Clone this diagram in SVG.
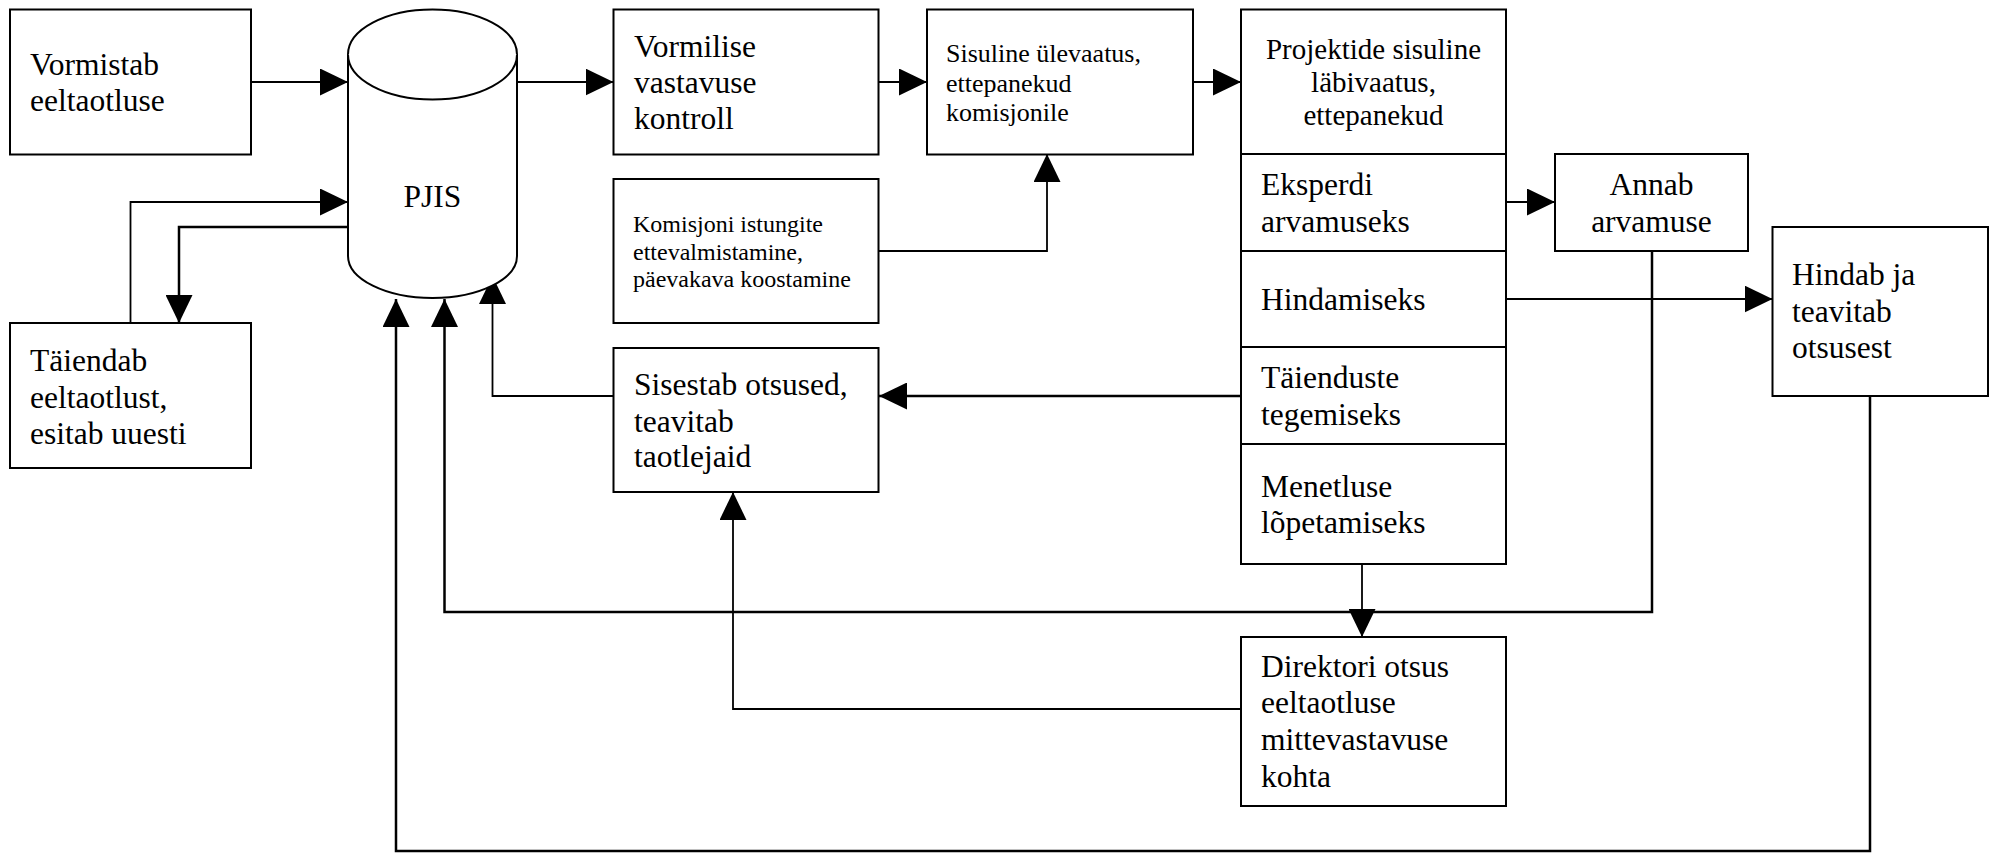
<svg xmlns="http://www.w3.org/2000/svg" width="1990" height="854" viewBox="0 0 1990 854">
  <style>
    .box { fill: #fff; stroke: #000; stroke-width: 2; }
    .t { font-family: "Liberation Serif", "Times New Roman", serif; font-size: 31.5px; fill: #000; }
    .s26 { font-size: 26px; }
    .s24 { font-size: 24px; }
    .s29 { font-size: 29px; }
    .mid { text-anchor: middle; }
    .c { fill: none; stroke: #000; stroke-width: 1.8; }
    .thick { stroke-width: 2.5; }
  </style>
  <defs>
    <marker id="arr" markerUnits="userSpaceOnUse" markerWidth="28" markerHeight="27" refX="28" refY="13.5" orient="auto">
      <path d="M0,0 L28,13.5 L0,27 Z" fill="#000"/>
    </marker>
  </defs>
  <rect width="1990" height="854" fill="#fff"/>

  <g id="connectors">
    <path class="c" d="M251,82 H348" marker-end="url(#arr)"/>
    <path class="c" d="M517,82 H613.5" marker-end="url(#arr)"/>
    <path class="c" d="M879,82 H927" marker-end="url(#arr)"/>
    <path class="c" d="M1193,82 H1241" marker-end="url(#arr)"/>
    <path class="c" d="M130.5,323 V202 H348" marker-end="url(#arr)"/>
    <path class="c thick" d="M348,227 H179 V323" marker-end="url(#arr)"/>
    <path class="c" d="M879,251 H1047 V154" marker-end="url(#arr)"/>
    <path class="c thick" d="M1241,396 H879" marker-end="url(#arr)"/>
    <path class="c" d="M613.5,396 H492.5 V276" marker-end="url(#arr)"/>
    <path class="c thick" d="M1652,251 V612 H444.5 V299" marker-end="url(#arr)"/>
    <path class="c thick" d="M1870,396 V851 H396 V299" marker-end="url(#arr)"/>
    <path class="c" d="M1506,202 H1555" marker-end="url(#arr)"/>
    <path class="c" d="M1506,299 H1772.5" marker-end="url(#arr)"/>
    <path class="c" d="M1362,564 V637" marker-end="url(#arr)"/>
    <path class="c" d="M1241,709 H733 V492" marker-end="url(#arr)"/>
  </g>

  <g id="vormistab">
    <rect class="box" x="10" y="9.5" width="241" height="145"/>
    <text class="t" x="30" y="75">Vormistab</text>
    <text class="t" x="30" y="111">eeltaotluse</text>
  </g>

  <g id="pjis">
    <path class="box" d="M348,54.5 V256 A84.5,42 0 0 0 517,256 V54.5 A84.5,45 0 0 0 348,54.5 Z"/>
    <path class="box" fill="none" d="M348,54.5 A84.5,45 0 0 0 517,54.5"/>
    <text class="t mid" x="432.5" y="207">PJIS</text>
  </g>

  <g id="taiendab">
    <rect class="box" x="10" y="323" width="241" height="145"/>
    <text class="t" x="30" y="371">Täiendab</text>
    <text class="t" x="30" y="408">eeltaotlust,</text>
    <text class="t" x="30" y="444">esitab uuesti</text>
  </g>

  <g id="vormilise">
    <rect class="box" x="613.5" y="9.5" width="265" height="145"/>
    <text class="t" x="634" y="57">Vormilise</text>
    <text class="t" x="634" y="93">vastavuse</text>
    <text class="t" x="634" y="129">kontroll</text>
  </g>

  <g id="sisuline">
    <rect class="box" x="927" y="9.5" width="266" height="145"/>
    <text class="t s26" x="946" y="62">Sisuline ülevaatus,</text>
    <text class="t s26" x="946" y="92">ettepanekud</text>
    <text class="t s26" x="946" y="121">komisjonile</text>
  </g>

  <g id="komisjoni">
    <rect class="box" x="613.5" y="179" width="265" height="144"/>
    <text class="t s24" x="633" y="232">Komisjoni istungite</text>
    <text class="t s24" x="633" y="260">ettevalmistamine,</text>
    <text class="t s24" x="633" y="287">päevakava koostamine</text>
  </g>

  <g id="sisestab">
    <rect class="box" x="613.5" y="348" width="265" height="144"/>
    <text class="t" x="634" y="395">Sisestab otsused,</text>
    <text class="t" x="634" y="432">teavitab</text>
    <text class="t" x="634" y="467">taotlejaid</text>
  </g>

  <g id="projektide">
    <rect class="box" x="1241" y="9.5" width="265" height="144.5"/>
    <text class="t s29 mid" x="1373.5" y="59">Projektide sisuline</text>
    <text class="t s29 mid" x="1373.5" y="92">läbivaatus,</text>
    <text class="t s29 mid" x="1373.5" y="125">ettepanekud</text>
  </g>

  <g id="eksperdi">
    <rect class="box" x="1241" y="154" width="265" height="97"/>
    <text class="t" x="1261" y="195">Eksperdi</text>
    <text class="t" x="1261" y="232">arvamuseks</text>
  </g>

  <g id="hindamiseks">
    <rect class="box" x="1241" y="251" width="265" height="96"/>
    <text class="t" x="1261" y="310">Hindamiseks</text>
  </g>

  <g id="taienduste">
    <rect class="box" x="1241" y="347" width="265" height="97"/>
    <text class="t" x="1261" y="388">Täienduste</text>
    <text class="t" x="1261" y="425">tegemiseks</text>
  </g>

  <g id="menetluse">
    <rect class="box" x="1241" y="444" width="265" height="120"/>
    <text class="t" x="1261" y="497">Menetluse</text>
    <text class="t" x="1261" y="533">lõpetamiseks</text>
  </g>

  <g id="annab">
    <rect class="box" x="1555" y="154" width="193" height="97"/>
    <text class="t mid" x="1651.5" y="195">Annab</text>
    <text class="t mid" x="1651.5" y="232">arvamuse</text>
  </g>

  <g id="hindab">
    <rect class="box" x="1772.5" y="227" width="215.5" height="169"/>
    <text class="t" x="1792" y="285">Hindab ja</text>
    <text class="t" x="1792" y="322">teavitab</text>
    <text class="t" x="1792" y="358">otsusest</text>
  </g>

  <g id="direktori">
    <rect class="box" x="1241" y="637" width="265" height="169"/>
    <text class="t" x="1261" y="677">Direktori otsus</text>
    <text class="t" x="1261" y="713">eeltaotluse</text>
    <text class="t" x="1261" y="750">mittevastavuse</text>
    <text class="t" x="1261" y="787">kohta</text>
  </g>
</svg>
